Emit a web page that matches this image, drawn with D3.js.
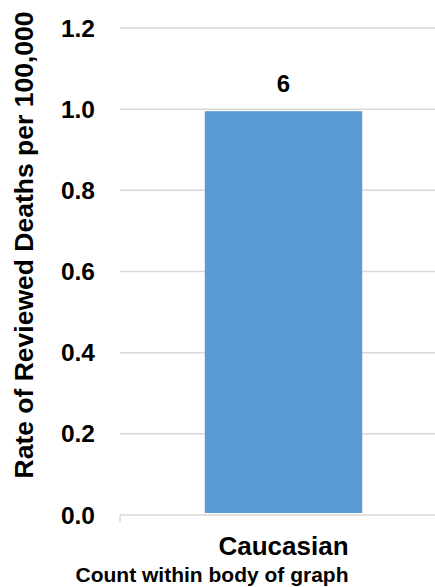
<!DOCTYPE html>
<html>
<head>
<meta charset="utf-8">
<script src="https://cdn.jsdelivr.net/npm/d3@7"></script>
<style>
  html, body { margin: 0; padding: 0; background: #fff; }
  svg { display: block; font-family: "Liberation Sans", Arial, sans-serif; }
</style>
</head>
<body>
<script>
const categories = ["Caucasian"];
const rates = [0.995];
const counts = ["6"];
const yTicks = [0, 0.2, 0.4, 0.6, 0.8, 1.0, 1.2];
const yTitle = "Rate of Reviewed Deaths per 100,000";
const footnote = "Count within body of graph";

const W = 435, H = 587;
const svg = d3.select("body").append("svg").attr("width", W).attr("height", H);

const y = d3.scaleLinear().domain([0, 1.2]).range([515, 28]);
const x = d3.scaleBand().domain(categories).range([120, 447]).paddingInner(0.35).paddingOuter(0.35);

// gridlines
svg.append("g").selectAll("line").data(yTicks.filter(d => d > 0)).join("line")
  .attr("x1", 120).attr("x2", W)
  .attr("y1", d => y(d)).attr("y2", d => y(d))
  .attr("stroke", "#d9d9d9").attr("stroke-width", 1.5);

// bars
svg.append("g").selectAll("rect").data(categories).join("rect")
  .attr("x", d => x(d))
  .attr("width", x.bandwidth())
  .attr("y", (d, i) => y(rates[i]))
  .attr("height", (d, i) => y(0) - y(rates[i]) - 2)
  .attr("fill", "#5B9BD5");

// x axis line
svg.append("line").attr("x1", 120).attr("x2", W).attr("y1", y(0)).attr("y2", y(0))
  .attr("stroke", "#d9d9d9").attr("stroke-width", 1.5);
svg.append("line").attr("x1", 120).attr("x2", 120).attr("y1", y(0)).attr("y2", y(0) + 7)
  .attr("stroke", "#d9d9d9").attr("stroke-width", 1.5);

// y tick labels
svg.append("g").selectAll("text").data(yTicks).join("text")
  .attr("x", 95).attr("y", d => y(d)).attr("dy", "0.35em")
  .attr("text-anchor", "end")
  .attr("font-size", 24.5).attr("font-weight", "bold").attr("fill", "#000")
  .text(d => d3.format(".1f")(d));

// value labels
svg.append("g").selectAll("text").data(categories).join("text")
  .attr("x", d => x(d) + x.bandwidth() / 2)
  .attr("y", (d, i) => y(rates[i]) - 19)
  .attr("text-anchor", "middle")
  .attr("font-size", 24).attr("font-weight", "bold").attr("fill", "#000")
  .text((d, i) => counts[i]);

// category labels
svg.append("g").selectAll("text").data(categories).join("text")
  .attr("x", d => x(d) + x.bandwidth() / 2)
  .attr("y", 555)
  .attr("text-anchor", "middle")
  .attr("font-size", 26).attr("font-weight", "bold").attr("fill", "#000")
  .text(d => d);

// footnote
svg.append("text").attr("x", 212).attr("y", 582).attr("text-anchor", "middle")
  .attr("font-size", 21).attr("font-weight", "bold").attr("fill", "#000")
  .text(footnote);

// y title
svg.append("text").attr("transform", "translate(33,245) rotate(-90)")
  .attr("text-anchor", "middle")
  .attr("font-size", 26.5).attr("font-weight", "bold").attr("fill", "#000")
  .text(yTitle);
</script>
</body>
</html>
